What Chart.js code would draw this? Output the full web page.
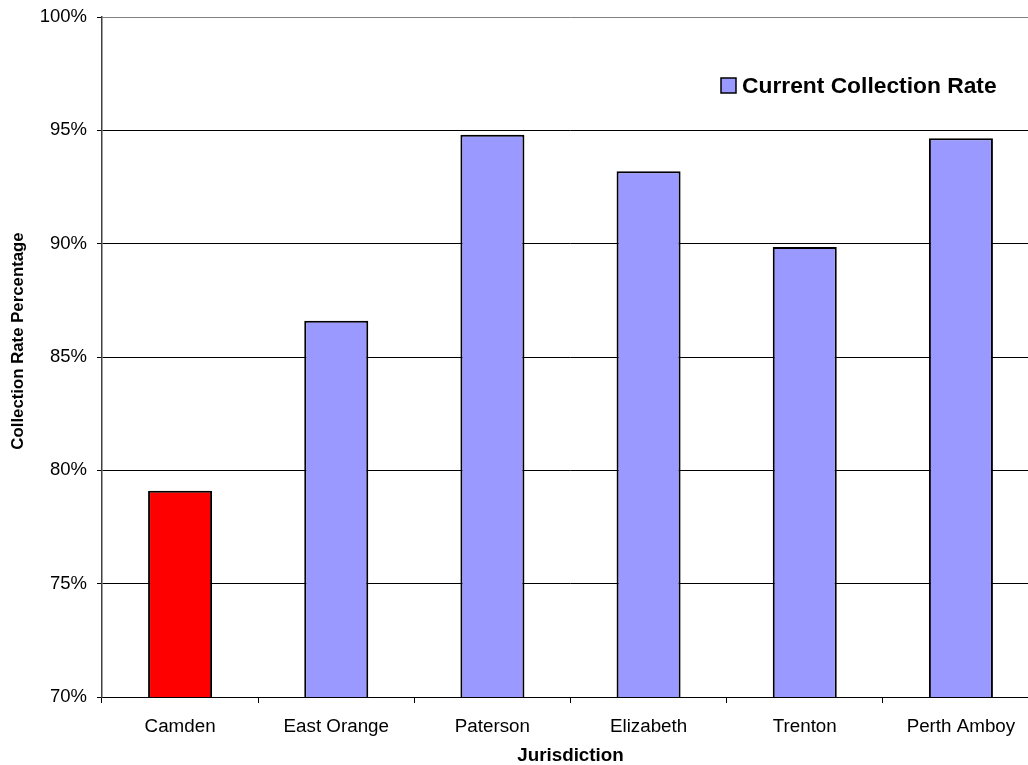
<!DOCTYPE html>
<html>
<head>
<meta charset="utf-8">
<title>Collection Rate by Jurisdiction</title>
<script src="https://cdn.jsdelivr.net/npm/chart.js@4.4.1/dist/chart.umd.min.js"></script>
<style>
  html, body { margin: 0; padding: 0; background: #fff; overflow: hidden; }
  #wrap { width: 1039px; height: 765px; }
</style>
</head>
<body>
<div id="wrap"><canvas id="myChart"></canvas></div>
<script>
// jurisdictions and their current collection rate (percent)
var jurisdictions = ['Camden', 'East Orange', 'Paterson', 'Elizabeth', 'Trenton', 'Perth Amboy'];
var collectionRates = [79.1, 86.6, 94.8, 93.2, 89.85, 94.65];
var barColors = ['#FF0000', '#9999FF', '#9999FF', '#9999FF', '#9999FF', '#9999FF'];
var legendColor = '#9999FF';
var yTicks = [70, 75, 80, 85, 90, 95, 100];
var yTitle = 'Collection Rate Percentage';

var FONT = 'Arial, "Liberation Sans", sans-serif';

// legend inside the plot (top right) and the rotated y axis title
var extras = {
  id: 'extras',
  afterDraw: function (chart) {
    var ctx = chart.ctx;
    var label = chart.data.datasets[0].label;
    var x = 721, y = 78, box = 15;
    ctx.save();
    ctx.fillStyle = legendColor;
    ctx.fillRect(x, y, box, box);
    ctx.strokeStyle = '#000';
    ctx.lineWidth = 1.5;
    ctx.strokeRect(x, y, box, box);
    ctx.fillStyle = '#000';
    ctx.font = 'bold 22.8px ' + FONT;
    ctx.textBaseline = 'middle';
    ctx.textAlign = 'left';
    ctx.fillText(label, x + box + 6, y + box / 2 + 1);

    // y title sits a bit above the middle of the plot
    ctx.translate(18.5, 341);
    ctx.rotate(-Math.PI / 2);
    ctx.font = 'bold 16.8px ' + FONT;
    ctx.textAlign = 'center';
    ctx.fillText(yTitle, 0, 0);
    ctx.restore();
  }
};

var ctx = document.getElementById('myChart').getContext('2d');
var myChart = new Chart(ctx, {
  type: 'bar',
  data: {
    labels: jurisdictions,
    datasets: [{
      label: 'Current Collection Rate',
      data: collectionRates,
      backgroundColor: barColors,
      borderColor: '#000',
      borderWidth: 2,
      borderSkipped: false,
      barPercentage: 0.41,
      categoryPercentage: 1
    }]
  },
  options: {
    responsive: true,
    maintainAspectRatio: false,
    animation: false,
    layout: { padding: { top: 17, right: 0, left: 0, bottom: 0 } },
    plugins: {
      legend: { display: false },
      tooltip: { enabled: false }
    },
    scales: {
      x: {
        offset: true,
        grid: {
          offset: true,
          drawOnChartArea: false,
          drawTicks: true,
          tickLength: 6,
          tickColor: '#000'
        },
        border: { color: '#000', width: 1 },
        ticks: {
          color: '#000',
          font: { family: FONT, size: 18.8 },
          padding: 13
        },
        title: {
          display: true,
          text: 'Jurisdiction',
          color: '#000',
          font: { family: FONT, size: 18.8, weight: 'bold', lineHeight: 1 },
          padding: { top: 0, bottom: 0 }
        },
        afterFit: function (scale) { scale.height = 68; }
      },
      y: {
        min: 70,
        max: 100,
        afterBuildTicks: function (scale) {
          scale.ticks = yTicks.map(function (v) { return { value: v }; });
        },
        grid: {
          color: function (c) { return c.tick && c.tick.value === 100 ? '#808080' : '#000'; },
          lineWidth: 1,
          drawTicks: true,
          tickLength: 5,
          tickColor: '#000'
        },
        border: { color: '#404040', width: 1.5 },
        ticks: {
          color: '#000',
          font: { family: FONT, size: 18.5 },
          padding: 10,
          callback: function (v) { return v + '%'; }
        },
        afterFit: function (scale) {
          scale.width = 102;
          scale.paddingTop = 0;
          scale.paddingBottom = 0;
        }
      }
    }
  },
  plugins: [extras]
});
</script>
</body>
</html>
